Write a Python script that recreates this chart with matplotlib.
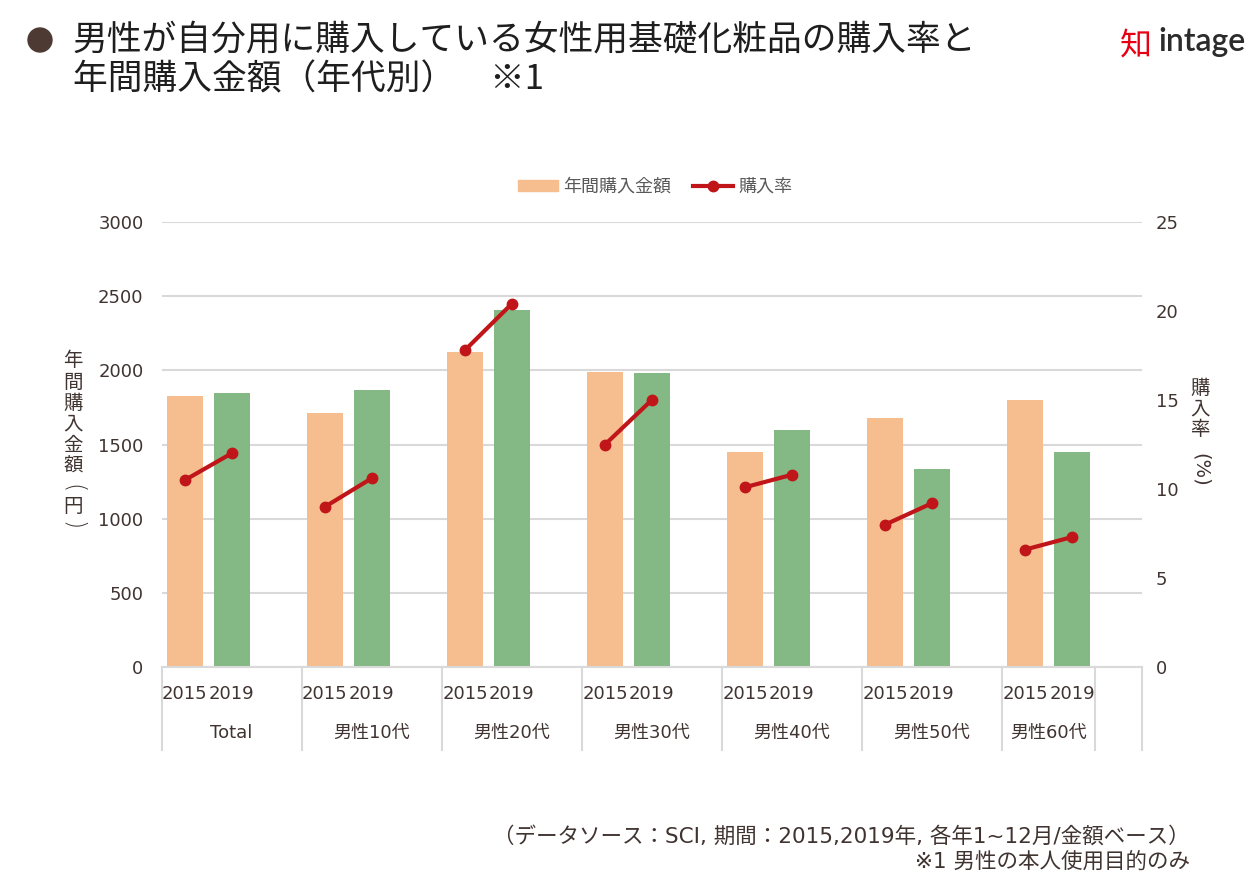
import matplotlib
matplotlib.use('Agg')
import matplotlib.pyplot as plt
from matplotlib.patches import Patch, Ellipse
from matplotlib.lines import Line2D
import numpy as np

plt.rcParams['font.family'] = ['Noto Sans CJK JP', 'DejaVu Sans']
NUMFONT = ['DejaVu Sans', 'Noto Sans CJK JP']

# ---------------- data ----------------
groups = ['Total', '男性10代', '男性20代', '男性30代', '男性40代', '男性50代', '男性60代']
years = ['2015', '2019']
amount_2015 = [1830, 1710, 2125, 1990, 1450, 1680, 1800]
amount_2019 = [1850, 1870, 2410, 1980, 1600, 1335, 1450]
rate_2015 = [10.5, 9.0, 17.8, 12.5, 10.1, 8.0, 6.6]
rate_2019 = [12.0, 10.6, 20.4, 15.0, 10.8, 9.2, 7.3]
left_ticks = [0, 500, 1000, 1500, 2000, 2500, 3000]
right_ticks = [0, 5, 10, 15, 20, 25]
legend_labels = ['年間購入金額', '購入率']

# ---------------- style ----------------
C_2015 = '#F6BD8F'
C_2019 = '#84B884'
C_LINE = '#C0161A'
C_GRID = '#D9D9D9'
C_TEXT = '#403431'

W, H = 1260, 893
fig = plt.figure(figsize=(12.6, 8.93), dpi=100)


def fx(px):
    return px / W


def fy(py):
    return 1 - py / H


ax = fig.add_axes([fx(161.5), fy(667), fx(1142) - fx(161.5), fy(222) - fy(667)])
ax2 = ax.twinx()

# category slots: 2015, 2019, blank per group (last group has no blank), plus a trailing blank slot
n = len(groups)
x15 = np.array([3 * i for i in range(n)])
x19 = x15 + 1
bw = 0.77

ax.bar(x15, amount_2015, width=bw, color=C_2015, zorder=2)
ax.bar(x19, amount_2019, width=bw, color=C_2019, zorder=2)

for i in range(n):
    ax2.plot([x15[i], x19[i]], [rate_2015[i], rate_2019[i]], color=C_LINE, lw=3,
             marker='o', ms=7.5, solid_capstyle='round', zorder=3)

ax.set_xlim(-0.5, x19[-1] + 1.5)
ax.set_ylim(left_ticks[0], left_ticks[-1])
ax2.set_ylim(right_ticks[0], right_ticks[-1])
ax.set_yticks(left_ticks)
ax2.set_yticks(right_ticks)
ax.yaxis.grid(True, color=C_GRID, lw=1.5)
ax.set_axisbelow(True)

xt = np.concatenate([x15, x19])
xl = [years[0]] * n + [years[1]] * n
ax.set_xticks(xt)
ax.set_xticklabels(xl)

ax.tick_params(axis='y', length=0, pad=13, labelsize=13, labelcolor=C_TEXT)
ax2.tick_params(axis='y', length=0, pad=10, labelsize=13, labelcolor=C_TEXT)
ax.tick_params(axis='x', length=0, pad=13, labelsize=13, labelcolor=C_TEXT)
for lab in ax.get_xticklabels() + ax.get_yticklabels() + ax2.get_yticklabels():
    lab.set_family(NUMFONT)

for s in ['top', 'left', 'right']:
    ax.spines[s].set_visible(False)
for s in ax2.spines.values():
    s.set_visible(False)
ax.spines['bottom'].set_color(C_GRID)
ax.spines['bottom'].set_linewidth(1.5)

# group labels and dividers
trans = ax.get_xaxis_transform()
bounds = [x15[i] - 0.5 for i in range(n)] + [x19[-1] + 0.5, x19[-1] + 1.5]
for b in bounds:
    ax.plot([b, b], [0, -0.187], transform=trans, color=C_GRID, lw=1.5, clip_on=False)
for i, g in enumerate(groups):
    left = bounds[i]
    right = bounds[i + 1]
    ax.text((left + right) / 2, -0.148, g, transform=trans, ha='center', va='center',
            fontsize=13, color=C_TEXT, family=NUMFONT)

# legend
handles = [Patch(color=C_2015, label=legend_labels[0]),
           Line2D([], [], color=C_LINE, lw=3, marker='o', ms=7.5, label=legend_labels[1])]
fig.legend(handles=handles, loc='center', bbox_to_anchor=(fx(655), fy(187)), ncol=2,
           frameon=False, fontsize=13, handlelength=2.2, handleheight=0.55,
           handletextpad=0.3, columnspacing=1.2, labelcolor='#595959')

# vertical axis titles
left_chars = ['年', '間', '購', '入', '金', '額']
ys = [361, 382, 403, 424, 445, 466]
for c, y in zip(left_chars, ys):
    fig.text(fx(73), fy(y), c, ha='center', va='center', fontsize=14, color=C_TEXT)
fig.text(fx(73), fy(489), '(', ha='center', va='center', fontsize=17, color=C_TEXT,
         rotation=-90, family='DejaVu Sans', fontweight='light')
fig.text(fx(73), fy(507), '円', ha='center', va='center', fontsize=14, color=C_TEXT)
fig.text(fx(73), fy(526), ')', ha='center', va='center', fontsize=17, color=C_TEXT,
         rotation=-90, family='DejaVu Sans', fontweight='light')

right_chars = ['購', '入', '率']
ys = [388, 409, 430]
for c, y in zip(right_chars, ys):
    fig.text(fx(1200), fy(y), c, ha='center', va='center', fontsize=14, color=C_TEXT)
fig.text(fx(1200), fy(470), '(%)', ha='center', va='center', fontsize=14, color=C_TEXT,
         rotation=-90, family=NUMFONT)

# title
fig.add_artist(Ellipse((fx(40), fy(40)), 24 / W, 24 / H, transform=fig.transFigure,
                       color='#4D3B33'))
fig.text(fx(73), fy(40), '男性が自分用に購入している女性用基礎化粧品の購入率と', ha='left', va='center',
         fontsize=25, color='#1E1E1E')
fig.text(fx(73), fy(80), '年間購入金額（年代別）　※1', ha='left', va='center',
         fontsize=25, color='#1E1E1E')

# logo
fig.text(fx(1136), fy(46), '知', ha='center', va='center', fontsize=23, color='#E60012')
fig.text(fx(1158), fy(42), 'intage', ha='left', va='center', fontsize=23, color='#2B2B2B',
         family='Lato', fontweight='semibold')

# footnotes
fig.text(fx(1190), fy(836), '（データソース：SCI, 期間：2015,2019年, 各年1~12月/金額ベース）',
         ha='right', va='center', fontsize=15.5, color=C_TEXT, family=NUMFONT)
fig.text(fx(1190), fy(862), '※1 男性の本人使用目的のみ', ha='right', va='center',
         fontsize=15.5, color=C_TEXT, family=NUMFONT)

fig.savefig('out.png', dpi=100)
